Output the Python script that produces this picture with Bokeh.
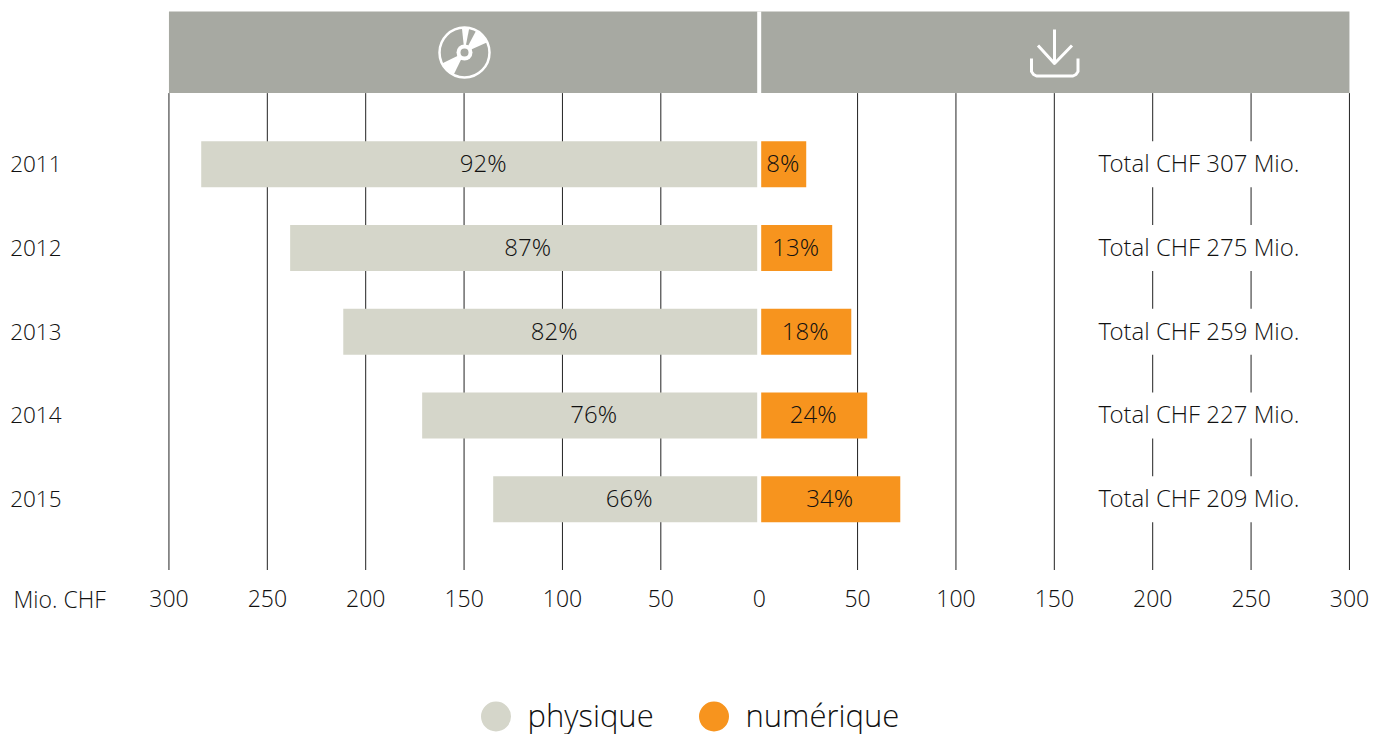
from bokeh.plotting import figure
from bokeh.models import Range1d, FixedTicker
from bokeh.core.properties import value
from bokeh.embed import file_html
from bokeh.resources import INLINE
import math

years = ["2011", "2012", "2013", "2014", "2015"]
physique = [283.6, 238.4, 211.4, 171.3, 135.2]
numerique = [23.9, 37.1, 46.8, 54.9, 71.7]
pct_physique = ["92%", "87%", "82%", "76%", "66%"]
pct_numerique = ["8%", "13%", "18%", "24%", "34%"]
totals = ["Total CHF 307 Mio.", "Total CHF 275 Mio.", "Total CHF 259 Mio.", "Total CHF 227 Mio.", "Total CHF 209 Mio."]
grid_ticks = [-300, -250, -200, -150, -100, -50, 50, 100, 150, 200, 250, 300]
axis_ticks = [-300, -250, -200, -150, -100, -50, 0, 50, 100, 150, 200, 250, 300]
legend_names = ["physique", "numérique"]

HEADER = "#A7A9A2"
GREY = "#D5D6CA"
ORANGE = "#F7941E"
INK = "#111111"
FONT = "Open Sans Light"
FS = "23px"

K = 1.9675
X0 = 758.7
ROW0, ROWH = 163.7, 83.75


def px(x):
    return (x - X0) / K


def py(y):
    return (y - ROW0) / ROWH


rows = list(range(len(years)))
p = figure(width=1374, height=734, output_backend="svg", toolbar_location=None,
           x_range=Range1d(px(0), px(1374)), y_range=Range1d(py(734), py(0)),
           min_border=0, outline_line_color=None,
           background_fill_color="white", border_fill_color="white")
p.grid.visible = False

xa = p.xaxis[0]
xa.fixed_location = py(570)
xa.ticker = FixedTicker(ticks=axis_ticks)
xa.major_label_overrides = {t: str(abs(t)) for t in axis_ticks}
xa.axis_line_color = None
xa.major_tick_line_color = None
xa.minor_tick_line_color = None
xa.major_label_text_font = FONT
xa.major_label_text_font_size = FS
xa.major_label_text_color = INK
xa.major_label_standoff = 13

ya = p.yaxis[0]
ya.fixed_location = px(169)
ya.ticker = FixedTicker(ticks=rows)
ya.major_label_overrides = {i: y for i, y in enumerate(years)}
ya.axis_line_color = None
ya.major_tick_line_color = None
ya.minor_tick_line_color = None
ya.major_label_text_font = FONT
ya.major_label_text_font_size = "22.5px"
ya.major_label_text_color = INK
ya.major_label_standoff = 102

p.segment(x0=grid_ticks, x1=grid_ticks, y0=py(92.6), y1=py(569.5), line_color="#222222", line_width=1)
p.quad(left=[-300], right=[300], top=[py(11)], bottom=[py(92.6)], fill_color=HEADER, line_color=None)

BH = 46 / ROWH
p.hbar(y=rows, left=px(1090), right=px(1312), height=BH, fill_color="white", line_color=None)
p.hbar(y=rows, left=[-v for v in physique], right=0, height=BH, fill_color=GREY, line_color=None)
p.hbar(y=rows, left=0, right=numerique, height=BH, fill_color=ORANGE, line_color=None)
p.segment(x0=[0], x1=[0], y0=[py(11)], y1=[py(570)], line_color="white", line_width=4)

kw = dict(text_font=value(FONT), text_font_size=value("24px"), text_color=INK, text_baseline="middle", y_offset=-1.5)
p.text(x=[-v / 2 for v in physique], y=rows, text=pct_physique, text_align="center", x_offset=3, **kw)
p.text(x=[v / 2 for v in numerique], y=rows, text=pct_numerique, text_align="center", **kw)
p.text(x=[px(1098)] * 5, y=rows, text=totals, text_align="left", **kw)
p.text(x=[px(13)], y=[py(599.5)], text=["Mio. CHF"], text_align="left",
       text_font=value(FONT), text_font_size=value(FS), text_color=INK, text_baseline="middle", y_offset=-1.5)

cx, cy = px(464), py(52)
p.wedge(x=[cx] * 3, y=[cy] * 3, radius=25, radius_units="screen",
        start_angle=[math.radians(a) for a in (79, 24, 206)],
        end_angle=[math.radians(a) for a in (96, 62, 244)],
        fill_color="white", line_color=None)
p.scatter(x=[cx], y=[cy], size=50, marker="circle", fill_color=None, line_color="white", line_width=2.5)
p.scatter(x=[cx], y=[cy], size=16, marker="circle", fill_color="white", line_color=None)
p.scatter(x=[cx], y=[cy], size=8, marker="circle", fill_color=HEADER, line_color=None)

arrow_x = [[px(1054), px(1054)], [px(1037.5), px(1054), px(1071.5)],
           [px(1031), px(1031), px(1033), px(1036), px(1072.5), px(1075.5), px(1077.5), px(1077.5)]]
arrow_y = [[py(29), py(63)], [py(45), py(63), py(45)],
           [py(58), py(71), py(74), py(75.5), py(75.5), py(74), py(71), py(58)]]
p.multi_line(xs=arrow_x, ys=arrow_y, line_color="white", line_width=3, line_join="round")

p.scatter(x=[px(495.5), px(713.5)], y=[py(716), py(716)], size=30, marker="circle", color=[GREY, ORANGE], line_color=None)
p.text(x=[px(527), px(745)], y=[py(714), py(714)], text=legend_names, text_font=value(FONT),
       text_font_size=value("31px"), text_color=INK, text_baseline="middle", text_align="left")

open("out.html", "w").write(file_html(p, INLINE))
